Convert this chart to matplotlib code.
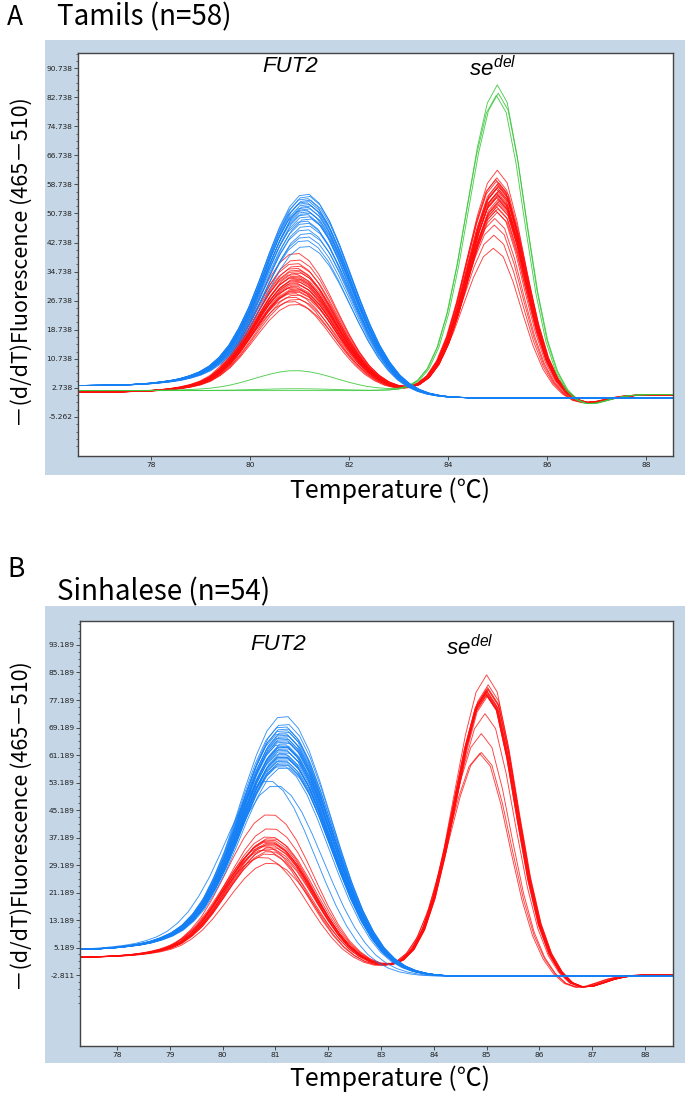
import numpy as np
import matplotlib
matplotlib.use("Agg")
import matplotlib.pyplot as plt
from matplotlib.patches import Rectangle
from matplotlib.ticker import FixedLocator

plt.rcParams['font.family'] = ['Noto Sans CJK JP', 'DejaVu Sans']
plt.rcParams['mathtext.fontset'] = 'custom'
plt.rcParams['mathtext.it'] = 'Liberation Sans:italic'
plt.rcParams['mathtext.rm'] = 'Liberation Sans'

# ---------------- data ----------------
# temperature grid, 0.2 degC steps 76.4 .. 88.6 (62 points)
temps = np.round(np.arange(76.4, 88.61, 0.2), 2)

# normalised melt-peak profiles
fut2_blue_profile = [0, 0, 0.0005, 0.001, 0.002, 0.003, 0.005, 0.008, 0.012, 0.018,
                     0.025, 0.035, 0.05, 0.07, 0.10, 0.145, 0.21, 0.30, 0.41, 0.5425,
                     0.685, 0.817, 0.923, 0.986, 0.998, 0.959, 0.878, 0.764, 0.633, 0.50,
                     0.375, 0.268, 0.183, 0.118, 0.073, 0.043, 0.024, 0.013, 0.006, 0.003,
                     0.001] + [0] * 21
fut2_red_profile = [0, 0, 0.0005, 0.001, 0.002, 0.003, 0.005, 0.008, 0.012, 0.018,
                    0.026, 0.038, 0.055, 0.08, 0.12, 0.185, 0.274, 0.393, 0.533, 0.680,
                    0.818, 0.927, 0.989, 0.995, 0.943, 0.843, 0.709, 0.562, 0.42, 0.296,
                    0.196, 0.123, 0.072, 0.040, 0.021, 0.010, 0.005, 0.002] + [0] * 24
sedel_profile = [0] * 31 + [0.001, 0.002, 0.005, 0.0134, 0.033, 0.0726, 0.144, 0.258, 0.417,
                            0.607, 0.795, 0.939, 0.9995, 0.944, 0.773, 0.55, 0.339, 0.181,
                            0.084, 0.034, 0.012, 0.004, 0.001] + [0] * 8
dip_profile = [0] * 48 + [-0.05, -0.2, -0.5, -0.85, -1.0, -0.88, -0.6, -0.33, -0.15,
                          -0.05, -0.01] + [0] * 3
step_fut2 = [0] * 16 + [0.03, 0.07, 0.13, 0.2, 0.29, 0.38, 0.47, 0.56, 0.64, 0.72, 0.79,
                        0.85, 0.9, 0.94, 0.965, 0.98, 0.99] + [1] * 29
step_sedel = [0] * 37 + [0.03, 0.08, 0.16, 0.27, 0.4, 0.53, 0.65, 0.76, 0.85, 0.92, 0.96,
                         0.985] + [1] * 13

# ---- Panel A: Tamils ----
# baseline levels (left, between peaks, right) and dip depth per genotype group
A_blue_levels = (3.4, 0.0, 0.0)
A_red_levels = (1.6, 1.6, 0.8)
A_green_levels = (2.0, 2.0, 0.9)
A_red_dip, A_green_dip = 2.3, 2.8

A_blue_fut2 = [54.9, 54.3, 53.7, 53.3, 52.9, 52.5, 52.1, 51.7, 51.3, 50.9, 50.5, 50.1,
               49.7, 49.3, 48.7, 48.1, 47.5, 46.9, 46.1, 45.1, 44.1, 43.1, 42.1, 40.5]
A_blue_shift = [0.00, 0.02, -0.02, 0.03, 0.00, -0.03, 0.01, 0.04, -0.01, 0.02, -0.04, 0.00,
                0.03, -0.02, 0.01, 0.05, -0.03, 0.00, 0.02, -0.01, 0.03, 0.00, -0.02, 0.01]

A_red_fut2 = [38.3, 36.5, 35.5, 34.8, 34.2, 33.7, 33.3, 32.9, 32.5, 32.1, 31.8, 31.5, 31.2,
              30.9, 30.6, 30.3, 30.0, 29.7, 29.4, 29.1, 28.8, 28.5, 28.2, 27.9, 27.6, 27.2,
              26.8, 26.2, 25.6, 25.0, 24.2]
A_red_sedel = [61.6, 57.3, 59.5, 55.8, 58.5, 54.6, 57.7, 56.1, 59.0, 53.6, 56.7, 55.2, 58.1,
               52.4, 54.0, 57.0, 50.5, 55.5, 53.2, 56.4, 48.3, 54.9, 52.0, 51.5, 54.3, 46.5,
               52.8, 43.7, 51.0, 40.1, 50.0]
A_red_shift = [0.0, 0.02, -0.01, 0.03, -0.02, 0.01, 0.0, 0.04, -0.03, 0.02, 0.0, -0.02, 0.03,
               0.01, -0.01, 0.02, -0.03, 0.0, 0.03, -0.02, -0.05, 0.01, 0.02, -0.01, 0.0,
               -0.06, 0.02, -0.07, 0.01, -0.08, 0.0]

A_green_fut2 = [5.5, 0.5, 0.0]
A_green_sedel = [84.9, 82.6, 82.0]
A_green_shift = [0.0, 0.02, -0.02]

# ---- Panel B: Sinhalese ----
B_blue_levels = (4.5, -3.2, -3.2)
B_red_levels = (2.3, -1.5, -2.8)
B_red_dip = 3.8

B_blue_fut2 = [72.9, 70.6, 69.9, 69.3, 68.8, 68.3, 67.9, 67.5, 67.1, 66.7, 66.3, 65.9, 65.5,
               65.1, 64.7, 64.3, 63.9, 63.5, 63.1, 62.7, 62.3, 61.9, 61.5, 61.1, 60.7, 60.3,
               59.9, 59.5, 59.1, 58.7, 58.3, 57.9, 61.0, 64.0, 54.0, 52.6]
B_blue_shift = [0.04, 0.06, 0.02, 0.05, 0.03, 0.07, 0.01, 0.04, 0.06, 0.02, 0.05, 0.03, 0.04,
                0.08, 0.0, 0.05, 0.03, 0.06, 0.02, 0.04, 0.07, 0.01, 0.05, 0.03, 0.04, 0.06,
                0.02, 0.05, 0.03, 0.04, 0.0, 0.06, 0.03, 0.05, -0.25, -0.10]

B_red_fut2 = [43.7, 39.6, 37.2, 36.7, 36.3, 35.9, 35.6, 35.3, 35.0, 34.7, 34.4, 34.1, 33.7,
              33.3, 32.9, 32.2, 31.2, 29.5]
B_red_sedel = [86.9, 82.8, 82.4, 84.0, 82.0, 81.7, 75.6, 81.4, 83.2, 81.1, 64.3, 82.6, 80.9,
               69.8, 82.2, 81.5, 64.0, 80.8]
B_red_shift = [0.0, 0.02, -0.01, 0.03, 0.0, -0.02, -0.03, 0.01, 0.02, -0.01, -0.10, 0.03,
               0.0, -0.10, 0.01, -0.02, -0.13, 0.02]

A_yticks = [-5.262, 2.738, 10.738, 18.738, 26.738, 34.738, 42.738, 50.738, 58.738, 66.738,
            74.738, 82.738, 90.738]
B_yticks = [-2.811, 5.189, 13.189, 21.189, 29.189, 37.189, 45.189, 53.189, 61.189, 69.189,
            77.189, 85.189, 93.189]
A_xticks = [78, 80, 82, 84, 86, 88]
B_xticks = [78, 79, 80, 81, 82, 83, 84, 85, 86, 87, 88]

BLUE = '#1580f5'
RED = '#ff0d0d'
GREEN = '#3cc83c'
BG = '#c5d6e6'

fut2_blue_profile = np.array(fut2_blue_profile)
fut2_red_profile = np.array(fut2_red_profile)
sedel_profile = np.array(sedel_profile)
dip_profile = np.array(dip_profile)
step_fut2 = np.array(step_fut2)
step_sedel = np.array(step_sedel)


def baseline(levels):
    left, mid, right = levels
    return left + (mid - left) * step_fut2 + (right - mid) * step_sedel


W, H = 685.0, 1093.0
fig = plt.figure(figsize=(W / 100, H / 100), dpi=100)


def px_box(x0, y0, x1, y1):
    return [x0 / W, 1 - y1 / H, (x1 - x0) / W, (y1 - y0) / H]


for (x0, y0, x1, y1) in [(45, 40, 685, 475), (45, 606, 685, 1063)]:
    b = px_box(x0, y0, x1, y1)
    fig.patches.append(Rectangle((b[0], b[1]), b[2], b[3], transform=fig.transFigure,
                                 facecolor=BG, edgecolor='none', zorder=-10))

axA = fig.add_axes(px_box(78, 53, 673, 456))
axB = fig.add_axes(px_box(80, 621, 673, 1046))
axA.set_zorder(5)
axB.set_zorder(5)

LW = 0.65
# Panel A curves
baseA_red = baseline(A_red_levels)
for f, s, sh in zip(A_red_fut2, A_red_sedel, A_red_shift):
    y = baseA_red + f * fut2_red_profile + s * sedel_profile + A_red_dip * dip_profile
    axA.plot(temps + sh, y, color=RED, lw=LW, alpha=0.8)
baseA_green = baseline(A_green_levels)
for f, s, sh in zip(A_green_fut2, A_green_sedel, A_green_shift):
    y = baseA_green + f * fut2_red_profile + s * sedel_profile + A_green_dip * dip_profile
    axA.plot(temps + sh, y, color=GREEN, lw=LW, alpha=0.9)
baseA_blue = baseline(A_blue_levels)
for f, sh in zip(A_blue_fut2, A_blue_shift):
    y = baseA_blue + f * fut2_blue_profile
    axA.plot(temps + sh, y, color=BLUE, lw=LW, alpha=0.85)

# Panel B curves
baseB_red = baseline(B_red_levels)
for f, s, sh in zip(B_red_fut2, B_red_sedel, B_red_shift):
    y = baseB_red + f * fut2_red_profile + s * sedel_profile + B_red_dip * dip_profile
    axB.plot(temps + sh, y, color=RED, lw=LW, alpha=0.8)
baseB_blue = baseline(B_blue_levels)
for f, sh in zip(B_blue_fut2, B_blue_shift):
    y = baseB_blue + f * fut2_blue_profile
    axB.plot(temps + sh, y, color=BLUE, lw=LW, alpha=0.85)

for ax, xl, yl, xt, yt in [(axA, (76.53, 88.55), (-16.0, 94.9), A_xticks, A_yticks),
                           (axB, (77.30, 88.53), (-23.46, 100.17), B_xticks, B_yticks)]:
    ax.set_xlim(*xl)
    ax.set_ylim(*yl)
    ax.set_xticks(xt)
    ax.set_xticklabels([str(v) for v in xt])
    ax.set_yticks(yt)
    ax.set_yticklabels(['%.3f' % v for v in yt])
    ax.yaxis.set_minor_locator(FixedLocator(np.arange(yt[0] - 8, yl[1], 2.0)))
    ax.tick_params(axis='both', which='major', direction='out', length=3, width=0.6,
                   color='#333333', labelsize=5.4, pad=1, labelcolor='#222222')
    ax.tick_params(axis='y', which='minor', direction='out', length=1.8, width=0.5,
                   color='#333333')
    for lab in ax.get_xticklabels() + ax.get_yticklabels():
        lab.set_family('DejaVu Sans')
    for sp in ax.spines.values():
        sp.set_color('#444444')
        sp.set_linewidth(1.0)
    ax.set_facecolor('white')

# titles and labels
fig.text(7 / W, 1 - 25 / H, 'A', fontsize=19, va='baseline', ha='left')
fig.text(57 / W, 1 - 25 / H, 'Tamils (n=58)', fontsize=20, va='baseline', ha='left')
fig.text(7 / W, 1 - 577 / H, 'B', fontsize=19, va='baseline', ha='left')
fig.text(57 / W, 1 - 600 / H, 'Sinhalese (n=54)', fontsize=20, va='baseline', ha='left')

ylab = '\uff0d(d/dT)Fluorescence (465\uff0d510)'
fig.text(22 / W, 1 - 262 / H, ylab, rotation=90, fontsize=15.5, ha='center', va='center')
fig.text(22 / W, 1 - 826 / H, ylab, rotation=90, fontsize=15.5, ha='center', va='center')
fig.text(390 / W, 1 - 491 / H, 'Temperature (\u2103)', fontsize=18, ha='center', va='center')
fig.text(390 / W, 1 - 1079 / H, 'Temperature (\u2103)', fontsize=18, ha='center', va='center')

lab_kw = dict(fontsize=16, ha='center', va='center', zorder=10)
fig.text(290 / W, 1 - 67 / H, 'FUT2', family='Liberation Sans', style='italic', **lab_kw)
fig.text(493 / W, 1 - 69 / H, r'$se^{del}$', **lab_kw)
fig.text(278 / W, 1 - 645 / H, 'FUT2', family='Liberation Sans', style='italic', **lab_kw)
fig.text(470 / W, 1 - 648 / H, r'$se^{del}$', **lab_kw)

fig.savefig('out.png', dpi=100, facecolor='white')
